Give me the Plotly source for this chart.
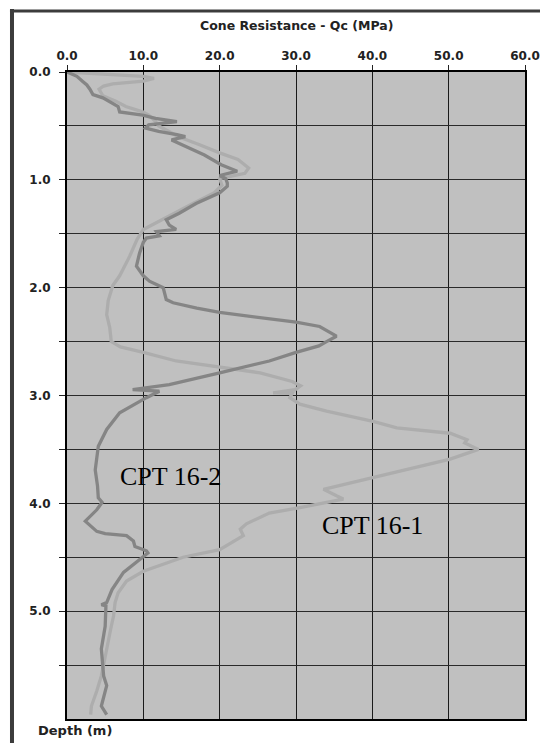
import plotly.graph_objects as go

# ---- data ----
cpt16_2_depth = [0.00, 0.04, 0.09, 0.12, 0.16, 0.21, 0.24, 0.29, 0.32, 0.37, 0.38, 0.40, 0.43, 0.46, 0.47,
                 0.49, 0.52, 0.55, 0.58, 0.60, 0.63, 0.69, 0.77, 0.86, 0.92, 0.96, 0.99, 1.03, 1.06, 1.12,
                 1.22, 1.31, 1.37, 1.42, 1.46, 1.48, 1.52, 1.54, 1.58, 1.68, 1.80, 1.89, 1.94, 2.00, 2.11,
                 2.14, 2.19, 2.23, 2.28, 2.32, 2.36, 2.45, 2.50, 2.54, 2.60, 2.68, 2.79, 2.90, 2.945, 2.96,
                 3.02, 3.16, 3.315, 3.47, 3.69, 3.84, 3.95, 3.99, 4.06, 4.165, 4.26, 4.28, 4.30, 4.35,
                 4.40, 4.44, 4.46, 4.54, 4.64, 4.80, 4.92, 4.94, 4.95, 5.14, 5.35, 5.60, 5.69, 5.88, 5.96]
cpt16_2_qc = [0.0, 1.3, 2.1, 2.6, 3.0, 3.4, 4.7, 6.0, 6.7, 6.9, 8.2, 9.9, 11.6, 14.4, 13.3,
              10.7, 10.3, 12.0, 14.4, 15.5, 13.7, 15.5, 18.0, 20.2, 22.3, 20.0, 20.8, 21.0, 21.0, 20.0,
              16.9, 14.7, 13.0, 13.4, 14.3, 11.7, 12.1, 10.4, 10.0, 9.5, 9.1, 10.0, 10.8, 12.6, 13.0,
              13.9, 17.0, 20.0, 25.2, 30.0, 33.1, 35.3, 34.0, 33.0, 30.0, 26.5, 20.0, 13.4, 8.6, 12.1,
              10.4, 6.9, 5.2, 4.1, 3.7, 4.0, 4.1, 4.6, 3.9, 2.4, 3.9, 5.0, 7.8, 8.7,
              8.9, 10.4, 10.6, 9.1, 7.4, 5.9, 5.2, 4.5, 5.1, 5.0, 4.5, 4.8, 5.2, 4.5, 5.2]

cpt16_1_depth = [0.00, 0.02, 0.04, 0.06, 0.085, 0.11, 0.13, 0.16, 0.22, 0.27, 0.32, 0.37, 0.40, 0.46, 0.50,
                 0.55, 0.60, 0.67, 0.75, 0.81, 0.89, 0.94, 0.97, 0.99, 1.05, 1.12, 1.22, 1.32, 1.40, 1.46,
                 1.55, 1.71, 1.89, 1.98, 2.12, 2.25, 2.37, 2.50, 2.55, 2.60, 2.68, 2.74, 2.79, 2.87, 2.91,
                 2.945, 2.975, 2.98, 3.02, 3.08, 3.145, 3.24, 3.30, 3.35, 3.41, 3.44, 3.50, 3.59, 3.76,
                 3.84, 3.87, 3.93, 3.96, 4.04, 4.09, 4.19, 4.24, 4.30, 4.43, 4.50, 4.63, 4.72, 4.83,
                 4.92, 5.045, 5.14, 5.35, 5.60, 5.74, 5.88, 5.96]
cpt16_1_qc = [0.0, 5.0, 10.0, 11.4, 10.0, 6.0, 4.8, 4.2, 4.7, 6.4, 7.7, 9.9, 10.7, 11.6, 12.0,
              13.3, 14.6, 17.2, 20.0, 22.4, 23.8, 23.3, 21.1, 20.0, 20.3, 19.3, 16.5, 13.8, 11.8, 10.0,
              9.2, 8.2, 6.9, 6.0, 5.4, 5.2, 5.6, 5.8, 7.0, 10.0, 14.3, 20.0, 25.3, 29.5, 30.6,
              29.9, 27.0, 29.5, 29.2, 30.5, 34.0, 40.1, 43.2, 50.2, 52.4, 52.1, 53.9, 50.2, 40.1,
              35.3, 33.6, 35.3, 36.2, 30.5, 26.5, 23.5, 22.7, 23.1, 20.0, 15.2, 10.0, 7.8, 6.7,
              6.3, 6.1, 5.8, 5.2, 4.5, 3.9, 3.2, 3.1]

x_ticks = [0, 10, 20, 30, 40, 50, 60]
y_ticks = [0, 0.5, 1, 1.5, 2, 2.5, 3, 3.5, 4, 4.5, 5, 5.5]
y_labelled = [0, 1, 2, 3, 4, 5]

# ---- figure ----
fig = go.Figure()
fig.add_trace(go.Scatter(x=cpt16_1_qc, y=cpt16_1_depth, mode="lines", name="CPT 16-1",
                         line=dict(color="#adadad", width=3.3)))
fig.add_trace(go.Scatter(x=cpt16_2_qc, y=cpt16_2_depth, mode="lines", name="CPT 16-2",
                         line=dict(color="#858585", width=3.3)))

tick_font = dict(family="DejaVu Sans", size=12, color="#222222", weight="bold")

fig.update_layout(
    width=540, height=743,
    margin=dict(l=67, r=15, t=72, b=24, autoexpand=False),
    paper_bgcolor="white", plot_bgcolor="#c0c0c0",
    showlegend=False,
    xaxis=dict(side="top", range=[0, 60], tickvals=x_ticks,
               ticktext=[f"{v:.1f}" for v in x_ticks],
               ticks="outside", ticklen=5, tickcolor="#222222", tickwidth=1.3,
               showgrid=True, gridcolor="#1a1a1a", gridwidth=1.3,
               showline=True, linecolor="black", linewidth=2, mirror=True,
               zeroline=False, tickfont=tick_font, automargin=False),
    yaxis=dict(range=[6, 0], tickvals=y_ticks,
               ticktext=[f"{v:.1f}" if v in y_labelled else "" for v in y_ticks],
               ticks="outside", ticklen=6, tickcolor="#222222", tickwidth=1.3,
               ticklabelstandoff=6,
               showgrid=True, gridcolor="#2a2a2a", gridwidth=1.3,
               showline=True, linecolor="black", linewidth=2, mirror=True,
               zeroline=False, tickfont=tick_font, automargin=False),
)

# outer frame (left and top edges)
fig.add_shape(type="line", xref="paper", yref="paper",
              x0=-0.1201, x1=-0.1201, y0=1.0974, y1=-0.07,
              line=dict(color="#3c3c3c", width=4))
fig.add_shape(type="line", xref="paper", yref="paper",
              x0=-0.1245, x1=1.08, y0=1.0943, y1=1.0943,
              line=dict(color="#3c3c3c", width=3))

fig.add_annotation(text="Cone Resistance - Qc (MPa)", xref="paper", yref="paper",
                   x=0.5, y=1.0711, xanchor="center", yanchor="middle", showarrow=False,
                   font=dict(family="DejaVu Sans", size=12.5, color="#222222", weight="bold"))
fig.add_annotation(text="Depth (m)", xref="paper", yref="paper",
                   x=-0.0677, y=-0.0185, xanchor="left", yanchor="middle", showarrow=False,
                   font=dict(family="DejaVu Sans", size=13, color="#222222", weight="bold"))

fig.add_annotation(text="CPT 16-2", x=13.5, y=3.75, xref="x", yref="y", showarrow=False,
                   font=dict(family="Liberation Serif", size=26, color="black"))
fig.add_annotation(text="CPT 16-1", x=40.0, y=4.21, xref="x", yref="y", showarrow=False,
                   font=dict(family="Liberation Serif", size=26, color="black"))

fig.write_html("out.html")
